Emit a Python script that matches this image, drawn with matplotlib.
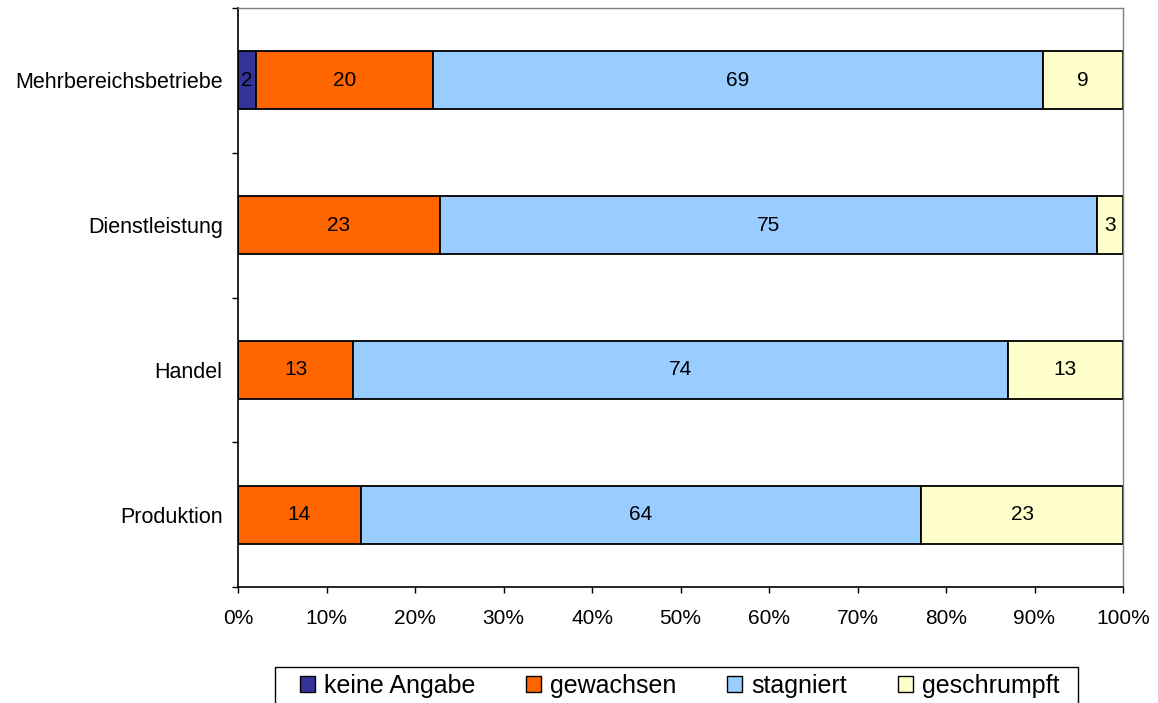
import numpy as np
import matplotlib
matplotlib.use("Agg")
import matplotlib.pyplot as plt
from matplotlib.patches import Patch, Rectangle

plt.rcParams["font.family"] = ["Liberation Sans", "DejaVu Sans"]

# bottom to top, as drawn
categories = ["Produktion", "Handel", "Dienstleistung", "Mehrbereichsbetriebe"]
series = ["keine Angabe", "gewachsen", "stagniert", "geschrumpft"]
keine_angabe = [0, 0, 0, 2]
gewachsen = [14, 13, 23, 20]
stagniert = [64, 74, 75, 69]
geschrumpft = [23, 13, 3, 9]
colors = ["#333399", "#FF6600", "#99CCFF", "#FFFFCC"]
xticks = [0, 10, 20, 30, 40, 50, 60, 70, 80, 90, 100]

W, H = 1158, 703
values = np.array([keine_angabe, gewachsen, stagniert, geschrumpft], dtype=float)
shares = values / values.sum(axis=0) * 100

fig = plt.figure(figsize=(W / 100, H / 100), dpi=100)
ax = fig.add_axes([238 / W, 116 / H, 885 / W, 579 / H])

y = np.arange(len(categories))
left = np.zeros(len(categories))
for i, name in enumerate(series):
    ax.barh(y, shares[i], left=left, height=0.4, color=colors[i],
            edgecolor="black", linewidth=1.3, label=name)
    for j in range(len(categories)):
        if values[i, j] > 0:
            ax.text(left[j] + shares[i, j] / 2, y[j], f"{int(values[i, j])}",
                    ha="center", va="center", fontsize=15)
    left += shares[i]

ax.set_xlim(0, 100)
ax.set_ylim(-0.5, len(categories) - 0.5)
ax.set_xticks(xticks)
ax.set_xticklabels([f"{t}%" for t in xticks])
ax.set_yticks(y)
ax.set_yticklabels(categories)
ax.set_yticks(np.arange(len(categories) + 1) - 0.5, minor=True)

ax.tick_params(axis="y", which="major", length=0, pad=11, labelsize=15.5)
ax.tick_params(axis="y", which="minor", length=4, width=1, direction="out")
ax.tick_params(axis="x", length=4, width=1, direction="out", pad=12, labelsize=15)

for side in ["left", "bottom"]:
    ax.spines[side].set_color("black")
    ax.spines[side].set_linewidth(1.2)
for side in ["top", "right"]:
    ax.spines[side].set_color("#808080")
    ax.spines[side].set_linewidth(1)

# legend box runs past the bottom edge of the picture
fig.patches.append(Rectangle((275 / W, -0.05), (1078 - 275) / W, 0.05 + (H - 667) / H,
                             transform=fig.transFigure, facecolor="white",
                             edgecolor="black", linewidth=1))
handles = [Patch(facecolor=c, edgecolor="black", linewidth=1) for c in colors]
fig.legend(handles, series, loc="center left",
           bbox_to_anchor=(300 / W, 1 - 686 / H), ncol=4,
           fontsize=18, frameon=False,
           handlelength=0.6, handleheight=0.6, handletextpad=0.36,
           columnspacing=2.03, borderpad=0, borderaxespad=0)

fig.savefig("out.png", dpi=100)
